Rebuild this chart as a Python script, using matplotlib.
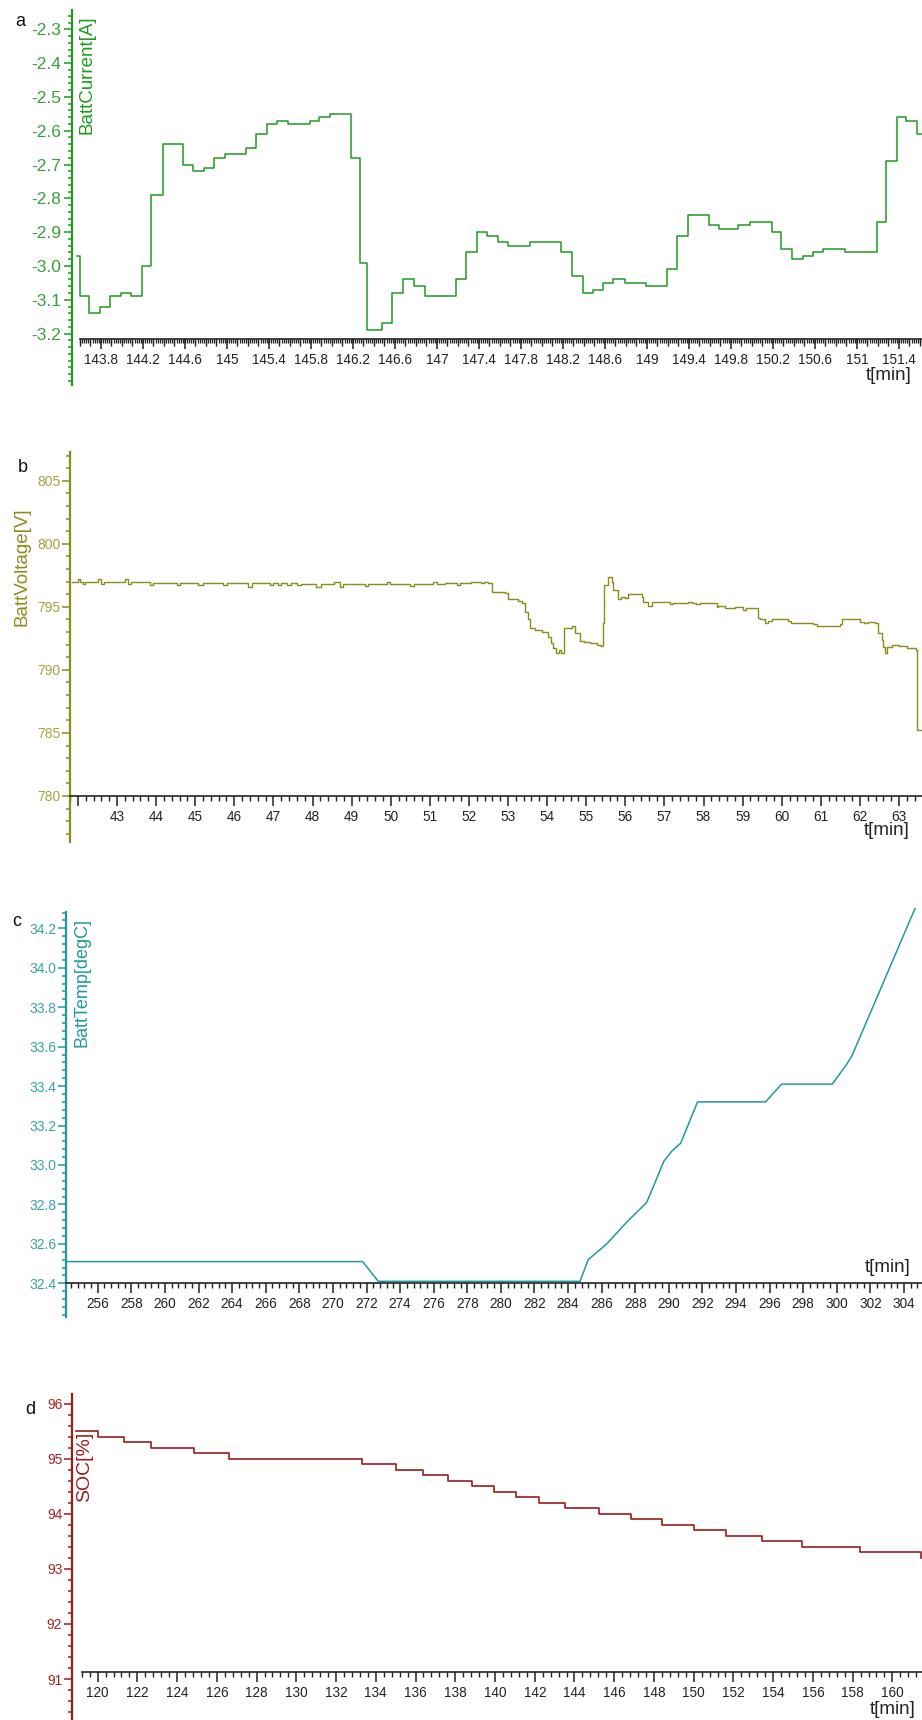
import numpy as np
import matplotlib
matplotlib.use('Agg')
import matplotlib.pyplot as plt
from matplotlib.ticker import MultipleLocator, FixedLocator

plt.rcParams['font.family'] = ['Liberation Sans', 'DejaVu Sans']
plt.rcParams['axes.unicode_minus'] = False

W, H = 922, 1720

# ---------------- datos ----------------
# a: corriente de bateria
t_cur = [143.57, 143.60, 143.69, 143.79, 143.89, 143.99, 144.09, 144.19, 144.28, 144.39,
         144.58, 144.68, 144.78, 144.88, 144.98, 145.18, 145.28, 145.38, 145.48, 145.58,
         145.79, 145.88, 145.98, 146.18, 146.27, 146.33, 146.48, 146.57, 146.68, 146.78,
         146.89, 147.18, 147.28, 147.38, 147.48, 147.58, 147.68, 147.89, 148.18, 148.29,
         148.39, 148.49, 148.58, 148.68, 148.79, 148.99, 149.19, 149.29, 149.39, 149.59,
         149.69, 149.87, 149.98, 150.19, 150.28, 150.38, 150.49, 150.58, 150.68, 150.89,
         151.19, 151.28, 151.38, 151.47, 151.57, 151.62]
cur = [-2.97, -3.09, -3.14, -3.12, -3.09, -3.08, -3.09, -3.00, -2.79, -2.64,
       -2.70, -2.72, -2.71, -2.68, -2.67, -2.65, -2.61, -2.58, -2.57, -2.58,
       -2.57, -2.56, -2.55, -2.68, -2.99, -3.19, -3.17, -3.08, -3.04, -3.06,
       -3.09, -3.04, -2.96, -2.90, -2.91, -2.93, -2.94, -2.93, -2.96, -3.03,
       -3.08, -3.07, -3.05, -3.04, -3.05, -3.06, -3.01, -2.91, -2.85, -2.88,
       -2.89, -2.88, -2.87, -2.90, -2.95, -2.98, -2.97, -2.96, -2.95, -2.96,
       -2.87, -2.69, -2.56, -2.57, -2.61, -2.61]

# b: voltaje
t_volt = [41.85, 41.99, 42.06, 42.12, 42.18, 42.51, 42.60, 42.68, 43.20, 43.28,
          43.36, 43.84, 43.92, 44.53, 44.61, 45.08, 45.19, 45.72, 45.81, 46.36,
          46.44, 46.91, 46.98, 47.12, 47.20, 47.35, 47.45, 47.60, 47.70, 48.10,
          48.23, 48.55, 48.70, 48.79, 49.35, 49.43, 49.90, 49.98, 50.49, 50.60,
          51.09, 51.18, 51.40, 51.69, 51.77, 52.05, 52.30, 52.38, 52.49, 52.58,
          52.92, 53.01, 53.26, 53.35, 53.43, 53.50, 53.56, 53.70, 53.86, 54.03,
          54.10, 54.16, 54.24, 54.30, 54.36, 54.44, 54.63, 54.71, 54.84, 54.95,
          55.10, 55.27, 55.39, 55.44, 55.46, 55.57, 55.65, 55.69, 55.82, 55.90,
          55.99, 56.08, 56.42, 56.46, 56.59, 56.67, 57.14, 57.23, 57.60, 57.70,
          57.80, 57.90, 58.34, 58.38, 58.55, 58.80, 59.02, 59.08, 59.40, 59.44,
          59.57, 59.65, 59.74, 60.17, 60.25, 60.50, 60.81, 60.89, 61.49, 61.53,
          62.00, 62.10, 62.20, 62.39, 62.47, 62.56, 62.60, 62.64, 62.70, 62.81,
          63.00, 63.20, 63.44, 63.45, 63.59]
volt = [797.0, 797.2, 797.0, 796.8, 797.0, 797.2, 796.8, 796.95, 797.2, 796.8,
        796.95, 796.7, 796.9, 796.7, 796.9, 796.7, 796.9, 796.7, 796.9, 796.6,
        796.9, 796.7, 796.9, 796.75, 796.9, 796.75, 796.9, 796.75, 796.85, 796.6,
        796.85, 797.0, 796.6, 796.85, 796.65, 796.85, 797.0, 796.85, 796.65, 796.85,
        797.0, 796.8, 796.9, 796.7, 796.9, 797.0, 796.9, 797.0, 796.9, 796.2,
        796.1, 795.6, 795.45, 795.3, 794.6, 794.0, 793.3, 793.2, 793.0, 792.6,
        792.1, 791.7, 791.3, 791.6, 791.3, 793.3, 793.5, 792.9, 792.3, 792.2,
        792.1, 792.0, 791.9, 793.7, 796.7, 797.4, 797.0, 796.3, 795.6, 795.8,
        795.7, 796.0, 795.75, 795.4, 795.1, 795.35, 795.2, 795.3, 795.35, 795.3,
        795.2, 795.3, 795.0, 795.1, 794.9, 795.0, 794.75, 794.9, 794.1, 794.0,
        793.7, 793.85, 794.0, 793.9, 793.7, 793.75, 793.6, 793.5, 793.6, 794.0,
        793.8, 793.7, 793.8, 793.7, 792.9, 792.4, 791.8, 791.3, 791.8, 792.0,
        791.9, 791.7, 791.6, 785.2, 785.2]

# c: temperatura
t_temp = [254.17, 271.77, 272.70, 284.71, 285.20, 286.30, 287.49, 288.68, 289.71,
          290.17, 290.70, 291.71, 295.76, 296.71, 299.73, 300.58, 300.88, 304.65]
temp = [32.51, 32.51, 32.41, 32.41, 32.52, 32.60, 32.71, 32.81, 33.02,
        33.07, 33.11, 33.32, 33.32, 33.41, 33.41, 33.51, 33.55, 34.30]

# d: estado de carga
t_soc = [118.91, 120.00, 121.32, 122.67, 124.83, 126.59, 133.32, 135.01, 136.36, 137.61,
         138.82, 139.96, 141.05, 142.21, 143.53, 145.21, 146.85, 148.41, 150.00, 151.62,
         153.42, 155.45, 158.35, 161.43, 161.49]
soc = [95.5, 95.4, 95.3, 95.2, 95.1, 95.0, 94.9, 94.8, 94.7, 94.6,
       94.5, 94.4, 94.3, 94.2, 94.1, 94.0, 93.9, 93.8, 93.7, 93.6,
       93.5, 93.4, 93.3, 93.2, 93.2]

# ticks
xt_a = [143.8, 144.2, 144.6, 145.0, 145.4, 145.8, 146.2, 146.6, 147.0, 147.4,
        147.8, 148.2, 148.6, 149.0, 149.4, 149.8, 150.2, 150.6, 151.0, 151.4]
yt_a = [-3.2, -3.1, -3.0, -2.9, -2.8, -2.7, -2.6, -2.5, -2.4, -2.3]
xt_b = list(range(42, 64))
xl_b = [''] + [str(v) for v in range(43, 64)]
yt_b = [780, 785, 790, 795, 800, 805]
xt_c = list(range(256, 305, 2))
yt_c = [32.4, 32.6, 32.8, 33.0, 33.2, 33.4, 33.6, 33.8, 34.0, 34.2]
xt_d = list(range(120, 161, 2))
yt_d = [91, 92, 93, 94, 95, 96]

fig = plt.figure(figsize=(W / 100, H / 100), dpi=100)


def fx(x):
    return x / W


def fy(y):
    return 1 - y / H


def panel(x0, ytop, ybot, xlim, ylim, x_at, x_from, col, tcol):
    ax = fig.add_axes([x0 / W, 1 - ybot / H, (W - x0) / W, (ybot - ytop) / H])
    ax.set_xlim(xlim)
    ax.set_ylim(ylim)
    ax.spines['top'].set_visible(False)
    ax.spines['right'].set_visible(False)
    ax.spines['left'].set_color(col)
    ax.spines['left'].set_linewidth(1.6)
    ax.spines['bottom'].set_position(('data', x_at))
    ax.spines['bottom'].set_bounds(x_from, xlim[1])
    ax.spines['bottom'].set_color('#222222')
    ax.spines['bottom'].set_linewidth(1.2)
    ax.tick_params(axis='y', which='major', direction='out', length=6, width=1.1,
                   color=col, labelcolor=tcol, labelsize=10, pad=1)
    ax.tick_params(axis='y', which='minor', direction='out', length=3, width=1.1, color=col)
    ax.tick_params(axis='x', which='major', direction='out', length=7, width=1.1,
                   color='#222222', labelcolor='#222222', labelsize=9.8, pad=3)
    ax.tick_params(axis='x', which='minor', direction='out', length=3.5, width=1.0,
                   color='#222222')
    return ax


def tmin(x, y):
    fig.text(fx(x), fy(y), 't[min]', fontsize=13.5, color='#222222', ha='center', va='center')


# ---- a ----
green, green_t = '#1f9a1f', '#3a9f3a'
ax = panel(72, 10, 385, (143.524, 151.62), (-3.352, -2.243), -3.2163, 143.6, green, green_t)
ax.step(t_cur, cur, where='post', color=green, lw=1.1)
ax.set_xticks(xt_a, [f'{v:g}' for v in xt_a])
ax.xaxis.set_minor_locator(FixedLocator(np.arange(143.6, 151.62, 0.1)))
ax.tick_params(axis='x', which='minor', length=5)
ax.set_yticks(yt_a, [f'{v:.1f}' for v in yt_a])
ax.yaxis.set_minor_locator(MultipleLocator(0.02))
ax.tick_params(axis='y', which='major', labelsize=12.5, pad=2)
# rayitas finas cada 0.02
ylo, yhi = ax.get_ylim()
sec = ax.secondary_xaxis((-3.2163 - ylo) / (yhi - ylo))
sec.spines['bottom'].set_visible(False)
sec.xaxis.set_major_locator(FixedLocator(np.arange(143.6, 151.62, 0.02)))
sec.tick_params(axis='x', direction='out', length=3, width=0.9, color='#222222',
                labelbottom=False)
fig.text(fx(87), fy(15), 'BattCurrent[A]', rotation=90, color=green, fontsize=13.5,
         ha='center', va='top')
fig.text(fx(20), fy(22), 'a', fontsize=13, color='#111111', ha='center', va='center')
tmin(889, 375)

# ---- b ----
olive, olive_t = '#8c8c1a', '#a4a43c'
ax = panel(70, 452, 842, (41.798, 63.588), (776.35, 807.28), 780, 41.798, olive, olive_t)
ax.step(t_volt, volt, where='post', color=olive, lw=1.0)
ax.set_xticks(xt_b, xl_b)
ax.xaxis.set_minor_locator(MultipleLocator(0.2))
ax.set_yticks(yt_b, [str(v) for v in yt_b])
ax.yaxis.set_minor_locator(MultipleLocator(1))
fig.text(fx(22), fy(567), 'BattVoltage[V]', rotation=90, color=olive, fontsize=13.5,
         ha='center', va='center')
fig.text(fx(23), fy(468), 'b', fontsize=13, color='#111111', ha='center', va='center')
tmin(887, 831)

# ---- c ----
teal, teal_t = '#21999a', '#3aa3a3'
ax = panel(66, 912, 1317, (254.11, 305.07), (32.229, 34.283), 32.4, 254.11, teal, teal_t)
ax.plot(t_temp, temp, color=teal, lw=1.1, clip_on=False)
ax.set_xticks(xt_c, [str(v) for v in xt_c])
ax.xaxis.set_minor_locator(MultipleLocator(0.4))
ax.set_yticks(yt_c, [f'{v:.1f}' for v in yt_c])
ax.yaxis.set_minor_locator(MultipleLocator(0.04))
fig.text(fx(82), fy(918), 'BattTemp[degC]', rotation=90, color=teal, fontsize=13,
         ha='center', va='top')
fig.text(fx(17), fy(921), 'c', fontsize=13, color='#111111', ha='center', va='center')
tmin(888, 1267)

# ---- d ----
red, red_t = '#9b1c1c', '#a32424'
ax = panel(72, 1394, 1720, (118.71, 161.49), (90.255, 96.18), 91.12, 119.21, red, red_t)
ax.step(t_soc, soc, where='post', color=red, lw=1.2)
ax.set_xticks(xt_d, [str(v) for v in xt_d])
ax.xaxis.set_minor_locator(FixedLocator(np.arange(119.2, 161.49, 0.4)))
ax.set_yticks(yt_d, [str(v) for v in yt_d])
ax.yaxis.set_minor_locator(MultipleLocator(0.2))
fig.text(fx(85), fy(1432), 'SOC[%]', rotation=90, color=red, fontsize=14,
         ha='center', va='top')
fig.text(fx(30), fy(1409), 'd', fontsize=13, color='#111111', ha='center', va='center')
tmin(893, 1710)

fig.savefig('out.png', dpi=100)
